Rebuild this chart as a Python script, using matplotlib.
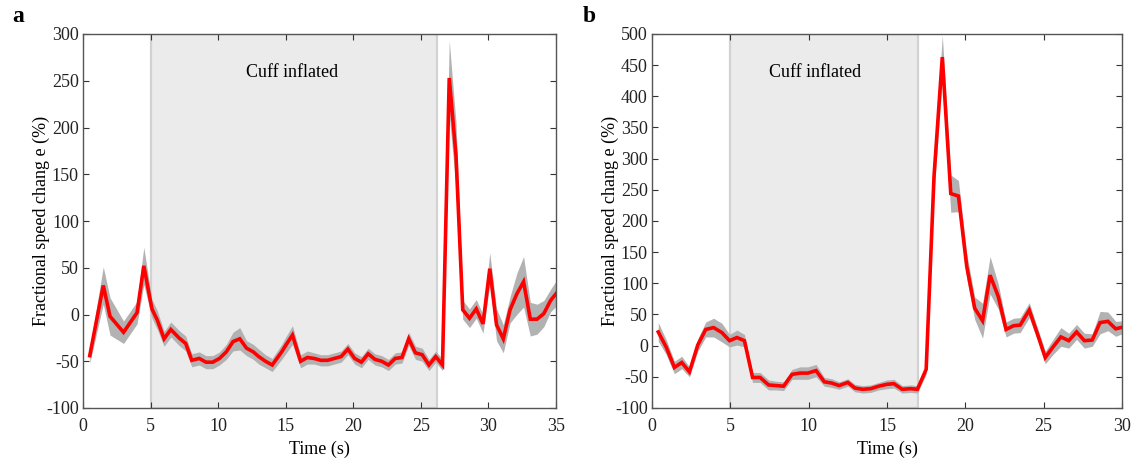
import numpy as np
import matplotlib
matplotlib.use("Agg")
import matplotlib.pyplot as plt

plt.rcParams['font.family'] = ['Liberation Serif', 'DejaVu Serif']
plt.rcParams['axes.unicode_minus'] = False

# ---------------- Panel a data ----------------
time_a = [0.5, 1.5, 2.0, 3.0, 4.0, 4.5, 5.1, 5.5, 6.0, 6.5, 7.1, 7.6, 8.05, 8.6, 9.1, 9.6,
          10.1, 10.6, 11.1, 11.6, 12.1, 12.6, 13.0, 13.5, 14.0, 14.7, 15.0, 15.5, 16.1, 16.6,
          17.1, 17.6, 18.1, 18.6, 19.1, 19.6, 20.1, 20.6, 21.1, 21.6, 22.1, 22.6, 23.1, 23.6,
          24.1, 24.6, 25.1, 25.6, 26.1, 26.6, 27.1, 27.6, 28.1, 28.6, 29.1, 29.6, 30.1, 30.6,
          31.1, 31.6, 32.1, 32.6, 33.1, 33.6, 34.1, 34.6, 35.1]
mean_a = [-44, 31, -2, -19, 2, 52, 6, -6, -26, -16, -25, -31, -49, -47, -51, -51,
          -47, -40, -29, -26, -36, -40, -45, -50, -54, -40, -33, -22, -50, -46,
          -47, -49, -49, -47, -45, -37, -47, -51, -42, -48, -50, -54, -47, -46,
          -26, -41, -43, -54, -45, -54, 253, 170, 5, -4, 6, -10, 49, -11,
          -26, 5, 22, 35, -5, -5, 1, 15, 24]
sem_a = [8, 20, 20, 12, 12, 20, 10, 10, 8, 8, 8, 8, 7, 7, 7, 7,
         7, 8, 10, 12, 8, 8, 8, 7, 7, 8, 9, 10, 7, 7,
         6, 6, 6, 6, 6, 6, 6, 6, 6, 6, 6, 6, 6, 6,
         7, 7, 7, 6, 6, 6, 40, 35, 10, 10, 10, 10, 17, 17,
         15, 14, 22, 27, 18, 16, 14, 12, 14]

# ---------------- Panel b data ----------------
time_b = [0.4, 0.9, 1.43, 1.9, 2.39, 2.92, 3.43, 3.93, 4.46, 4.95, 5.42, 5.9, 6.42, 6.9,
          7.44, 7.9, 8.4, 8.94, 9.45, 9.95, 10.47, 11.0, 11.47, 11.94, 12.5, 12.95, 13.45,
          13.96, 14.47, 15.0, 15.44, 15.97, 16.5, 16.94, 17.5, 18.0, 18.53, 19.07, 19.56,
          20.09, 20.6, 21.1, 21.58, 22.1, 22.6, 23.08, 23.5, 24.08, 24.6, 25.1, 25.6, 26.1,
          26.6, 27.1, 27.6, 28.1, 28.6, 29.1, 29.6, 30.1]
mean_b = [22, -2, -35, -27, -42, 1, 26, 29, 21, 8, 13, 8, -51, -51,
          -63, -64, -65, -46, -44, -44, -40, -58, -60, -64, -59, -68, -70,
          -69, -65, -62, -61, -70, -69, -70, -38, 271, 463, 244, 240,
          127, 60, 40, 113, 79, 26, 32, 33, 57, 19, -19, -2, 14,
          8, 22, 8, 9, 37, 39, 27, 30]
sem_b = [15, 12, 10, 10, 8, 10, 12, 15, 15, 10, 12, 10, 8, 8,
         8, 7, 7, 8, 10, 10, 10, 7, 7, 6, 6, 6, 6,
         6, 6, 7, 7, 6, 6, 6, 8, 25, 35, 30, 25,
         20, 18, 28, 30, 20, 12, 12, 12, 12, 10, 10, 12, 15,
         12, 12, 12, 10, 18, 15, 12, 10]

W, H = 1138, 463
fig = plt.figure(figsize=(W / 100, H / 100), dpi=100)

def setup(ax, xmax, ylim, yticks, cuff, text_xy):
    ax.axvspan(cuff[0], cuff[1], facecolor='#ebebeb', edgecolor='#d2d2d2', lw=1.6, zorder=0)
    ax.set_xlim(0, xmax)
    ax.set_ylim(*ylim)
    ax.set_yticks(yticks)
    ax.set_xticks(np.arange(0, xmax + 1, 5))
    ax.tick_params(direction='in', top=True, right=True, length=4, width=0.8,
                   colors='#333333', labelsize=13)
    ax.tick_params(axis='x', pad=7)
    ax.tick_params(axis='y', pad=3)
    for lab in ax.get_xticklabels() + ax.get_yticklabels():
        lab.set_color('#222222')
    for s in ax.spines.values():
        s.set_color('#555555')
        s.set_linewidth(1.0)
    ax.set_xlabel('Time (s)', fontsize=13, labelpad=4)
    ax.set_ylabel('Fractional speed chang e (%)', fontsize=13, labelpad=-3)
    ax.text(text_xy[0], text_xy[1], 'Cuff inflated', fontsize=13, ha='center', va='center')

def draw(ax, t, m, s):
    t = np.asarray(t); m = np.asarray(m, float); s = np.asarray(s, float)
    ax.fill_between(t, m - s, m + s, color='#b2b2b2', lw=0, zorder=2)
    ax.plot(t, m, color='#ff0000', lw=2.6, zorder=3, solid_joinstyle='miter')

ax1 = fig.add_axes([83 / W, 1 - 408 / H, 473 / W, 374 / H])
setup(ax1, 35, (-100, 300), np.arange(-100, 301, 50), (5, 26.2), (15.5, 259))
draw(ax1, time_a, mean_a, sem_a)

ax2 = fig.add_axes([652 / W, 1 - 408 / H, 470 / W, 374 / H])
setup(ax2, 30, (-100, 500), np.arange(-100, 501, 50), (5, 17.0), (10.4, 438))
draw(ax2, time_b, mean_b, sem_b)

fig.text(12 / W, 1 - 16 / H, 'a', fontsize=17, fontweight='bold', va='center', ha='left')
fig.text(583 / W, 1 - 16 / H, 'b', fontsize=17, fontweight='bold', va='center', ha='left')

fig.savefig('out.png', dpi=100)
